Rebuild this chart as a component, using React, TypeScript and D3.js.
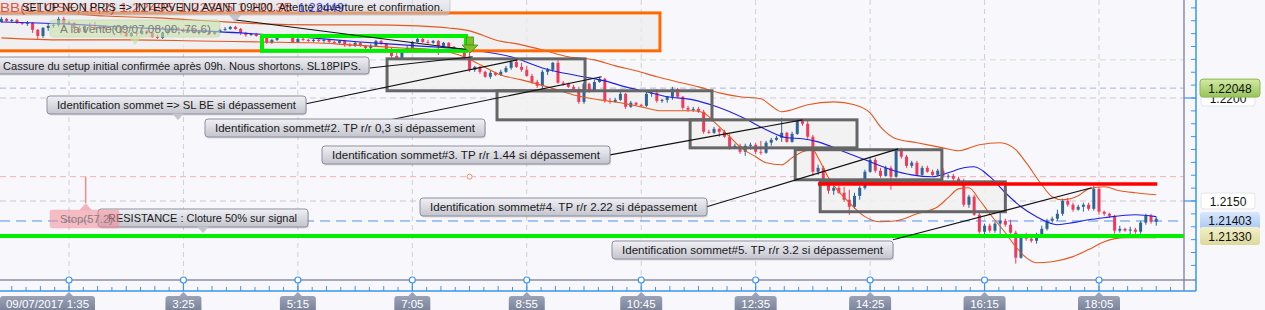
import React from "react";
import * as d3 from "d3";

const W = 1265;
const H = 310;
const FONT = "'Liberation Sans', Arial, sans-serif";

// 5-minute candles, 09/07/2017, first bar at 00:30
const START_MIN = 30;
const STEP_MIN = 5;

const opens = [
  1.22369,1.22384,1.22374,1.22379,1.22365,1.22360,1.22365,1.22331,1.22301,1.22340,
  1.22350,1.22355,1.22384,1.22360,1.22365,1.22340,1.22321,1.22350,1.22345,1.22335,
  1.22350,1.22335,1.22331,1.22340,1.22316,1.22301,1.22316,1.22311,1.22326,1.22316,
  1.22297,1.22292,1.22316,1.22331,1.22340,1.22331,1.22321,1.22331,1.22316,1.22326,
  1.22321,1.22311,1.22321,1.22331,1.22335,1.22345,1.22335,1.22316,1.22306,1.22311,
  1.22301,1.22292,1.22268,1.22282,1.22301,1.22297,1.22306,1.22272,1.22287,1.22282,
  1.22277,1.22282,1.22277,1.22282,1.22272,1.22268,1.22277,1.22258,1.22253,1.22268,
  1.22253,1.22243,1.22253,1.22277,1.22263,1.22238,1.22204,1.22195,1.22224,1.22243,
  1.22272,1.22287,1.22272,1.22268,1.22277,1.22253,1.22268,1.22248,1.22229,1.22224,
  1.22200,1.22137,1.22151,1.22127,1.22103,1.22122,1.22112,1.22127,1.22146,1.22175,
  1.22151,1.22137,1.22107,1.22078,1.22059,1.22127,1.22137,1.22171,1.22074,1.22069,
  1.22054,1.22044,1.21981,1.22069,1.22035,1.22078,1.22093,1.21986,1.21981,1.21991,
  1.22020,1.21957,1.21977,1.21967,1.21962,1.22020,1.22025,1.21986,1.21991,1.22006,
  1.22044,1.22006,1.21952,1.21943,1.21947,1.21933,1.21836,1.21831,1.21850,1.21836,
  1.21812,1.21758,1.21768,1.21739,1.21768,1.21773,1.21739,1.21734,1.21783,1.21797,
  1.21807,1.21831,1.21787,1.21826,1.21889,1.21875,1.21812,1.21642,1.21661,1.21589,
  1.21550,1.21564,1.21540,1.21506,1.21472,1.21525,1.21564,1.21642,1.21700,1.21647,
  1.21622,1.21661,1.21618,1.21744,1.21715,1.21671,1.21686,1.21627,1.21661,1.21642,
  1.21627,1.21647,1.21618,1.21622,1.21608,1.21593,1.21482,1.21521,1.21433,1.21351,
  1.21380,1.21356,1.21390,1.21404,1.21385,1.21346,1.21225,1.21322,1.21317,1.21307,
  1.21336,1.21365,1.21404,1.21414,1.21438,1.21501,1.21482,1.21458,1.21472,1.21482,
  1.21462,1.21559,1.21448,1.21438,1.21428,1.21356,1.21365,1.21356,1.21361,1.21351,
  1.21395,1.21428,1.21399,
];
const highs = [
  1.22394,1.22389,1.22384,1.22384,1.22369,1.22374,1.22369,1.22335,1.22345,1.22360,
  1.22365,1.22394,1.22394,1.22374,1.22369,1.22350,1.22355,1.22365,1.22369,1.22355,
  1.22355,1.22345,1.22345,1.22345,1.22321,1.22321,1.22326,1.22335,1.22331,1.22321,
  1.22306,1.22321,1.22335,1.22345,1.22345,1.22340,1.22335,1.22335,1.22331,1.22331,
  1.22326,1.22326,1.22335,1.22345,1.22350,1.22350,1.22340,1.22321,1.22316,1.22316,
  1.22306,1.22297,1.22287,1.22306,1.22306,1.22311,1.22311,1.22292,1.22292,1.22287,
  1.22287,1.22287,1.22287,1.22287,1.22277,1.22282,1.22282,1.22268,1.22272,1.22272,
  1.22258,1.22263,1.22282,1.22282,1.22268,1.22243,1.22219,1.22234,1.22253,1.22277,
  1.22306,1.22292,1.22282,1.22282,1.22282,1.22272,1.22272,1.22253,1.22243,1.22234,
  1.22224,1.22156,1.22156,1.22132,1.22132,1.22127,1.22137,1.22156,1.22185,1.22195,
  1.22171,1.22156,1.22117,1.22088,1.22137,1.22146,1.22175,1.22185,1.22083,1.22074,
  1.22064,1.22054,1.22078,1.22074,1.22088,1.22103,1.22098,1.22001,1.22001,1.22030,
  1.22025,1.21986,1.21981,1.21972,1.22030,1.22030,1.22044,1.21996,1.22010,1.22054,
  1.22049,1.22010,1.21962,1.21957,1.21957,1.21943,1.21846,1.21860,1.21855,1.21846,
  1.21826,1.21778,1.21778,1.21778,1.21783,1.21783,1.21792,1.21792,1.21807,1.21816,
  1.21904,1.21836,1.21836,1.21899,1.21894,1.21889,1.21821,1.21676,1.21671,1.21603,
  1.21574,1.21574,1.21569,1.21555,1.21540,1.21574,1.21652,1.21715,1.21710,1.21661,
  1.21671,1.21671,1.21753,1.21758,1.21724,1.21695,1.21695,1.21671,1.21671,1.21652,
  1.21656,1.21661,1.21632,1.21632,1.21618,1.21608,1.21530,1.21530,1.21448,1.21390,
  1.21390,1.21399,1.21443,1.21414,1.21409,1.21356,1.21331,1.21346,1.21331,1.21346,
  1.21380,1.21414,1.21424,1.21458,1.21511,1.21516,1.21492,1.21482,1.21492,1.21492,
  1.21574,1.21569,1.21453,1.21443,1.21433,1.21380,1.21370,1.21375,1.21370,1.21404,
  1.21438,1.21438,1.21424,
];
const lows = [
  1.22365,1.22369,1.22365,1.22360,1.22355,1.22350,1.22316,1.22287,1.22292,1.22326,
  1.22340,1.22345,1.22355,1.22355,1.22331,1.22316,1.22316,1.22340,1.22331,1.22331,
  1.22326,1.22321,1.22326,1.22306,1.22297,1.22297,1.22301,1.22306,1.22311,1.22292,
  1.22287,1.22287,1.22306,1.22316,1.22326,1.22316,1.22316,1.22311,1.22311,1.22316,
  1.22306,1.22306,1.22316,1.22326,1.22331,1.22331,1.22306,1.22297,1.22301,1.22297,
  1.22282,1.22263,1.22263,1.22277,1.22292,1.22292,1.22268,1.22268,1.22277,1.22272,
  1.22272,1.22272,1.22268,1.22268,1.22263,1.22263,1.22248,1.22248,1.22248,1.22248,
  1.22238,1.22238,1.22248,1.22258,1.22234,1.22195,1.22190,1.22190,1.22219,1.22234,
  1.22268,1.22268,1.22263,1.22263,1.22209,1.22248,1.22243,1.22224,1.22219,1.22195,
  1.22127,1.22127,1.22117,1.22098,1.22093,1.22107,1.22107,1.22122,1.22137,1.22146,
  1.22127,1.22103,1.22069,1.22049,1.22040,1.22112,1.22127,1.22069,1.22059,1.22049,
  1.22035,1.21972,1.21972,1.22025,1.22030,1.22074,1.21977,1.21972,1.21977,1.21986,
  1.21947,1.21952,1.21962,1.21957,1.21957,1.22006,1.21977,1.21977,1.21977,1.21991,
  1.22001,1.21943,1.21933,1.21933,1.21928,1.21826,1.21826,1.21826,1.21812,1.21807,
  1.21749,1.21753,1.21729,1.21719,1.21749,1.21729,1.21724,1.21729,1.21768,1.21792,
  1.21787,1.21783,1.21783,1.21821,1.21865,1.21802,1.21622,1.21627,1.21579,1.21535,
  1.21530,1.21535,1.21496,1.21433,1.21462,1.21506,1.21555,1.21637,1.21637,1.21613,
  1.21618,1.21555,1.21613,1.21705,1.21661,1.21661,1.21622,1.21622,1.21637,1.21622,
  1.21622,1.21613,1.21608,1.21598,1.21584,1.21472,1.21467,1.21428,1.21341,1.21336,
  1.21346,1.21346,1.21341,1.21375,1.21341,1.21196,1.21220,1.21307,1.21298,1.21293,
  1.21327,1.21356,1.21395,1.21404,1.21428,1.21472,1.21448,1.21453,1.21448,1.21453,
  1.21453,1.21433,1.21428,1.21419,1.21341,1.21346,1.21351,1.21336,1.21341,1.21341,
  1.21385,1.21390,1.21380,
];
const closes = [
  1.22384,1.22374,1.22379,1.22365,1.22360,1.22365,1.22331,1.22301,1.22340,1.22350,
  1.22355,1.22384,1.22360,1.22365,1.22340,1.22321,1.22350,1.22345,1.22335,1.22350,
  1.22335,1.22331,1.22340,1.22316,1.22301,1.22316,1.22311,1.22326,1.22316,1.22297,
  1.22292,1.22316,1.22331,1.22340,1.22331,1.22321,1.22331,1.22316,1.22326,1.22321,
  1.22311,1.22321,1.22331,1.22335,1.22345,1.22335,1.22316,1.22306,1.22311,1.22301,
  1.22292,1.22268,1.22282,1.22301,1.22297,1.22306,1.22272,1.22287,1.22282,1.22277,
  1.22282,1.22277,1.22282,1.22272,1.22268,1.22277,1.22258,1.22253,1.22268,1.22253,
  1.22243,1.22253,1.22277,1.22263,1.22238,1.22204,1.22195,1.22224,1.22243,1.22272,
  1.22287,1.22272,1.22268,1.22277,1.22253,1.22268,1.22248,1.22229,1.22224,1.22200,
  1.22137,1.22151,1.22127,1.22103,1.22122,1.22112,1.22127,1.22146,1.22175,1.22151,
  1.22137,1.22107,1.22078,1.22059,1.22127,1.22137,1.22171,1.22074,1.22069,1.22054,
  1.22044,1.21981,1.22069,1.22035,1.22078,1.22093,1.21986,1.21981,1.21991,1.22020,
  1.21957,1.21977,1.21967,1.21962,1.22020,1.22025,1.21986,1.21991,1.22006,1.22044,
  1.22006,1.21952,1.21943,1.21947,1.21933,1.21836,1.21831,1.21850,1.21836,1.21812,
  1.21758,1.21768,1.21739,1.21768,1.21773,1.21739,1.21734,1.21783,1.21797,1.21807,
  1.21831,1.21787,1.21826,1.21889,1.21875,1.21812,1.21642,1.21661,1.21589,1.21550,
  1.21564,1.21540,1.21506,1.21472,1.21525,1.21564,1.21642,1.21700,1.21647,1.21622,
  1.21661,1.21618,1.21744,1.21715,1.21671,1.21686,1.21627,1.21661,1.21642,1.21627,
  1.21647,1.21618,1.21622,1.21608,1.21593,1.21482,1.21521,1.21433,1.21351,1.21380,
  1.21356,1.21390,1.21404,1.21385,1.21346,1.21225,1.21322,1.21317,1.21307,1.21336,
  1.21365,1.21404,1.21414,1.21438,1.21501,1.21482,1.21458,1.21472,1.21482,1.21462,
  1.21559,1.21448,1.21438,1.21428,1.21356,1.21365,1.21356,1.21361,1.21351,1.21395,
  1.21428,1.21399,1.21414,
];

// Bollinger bands (orange) and moving average (blue), read at bar numbers
const upperBar = [0,10,20,30,40,50,60,70,80,86,90,95,100,104,109,114,118,122,126,130,134,138,142,146,148,150,152,155,160,164,167,169,172,176,181,184,188,192,195,197,200,202,204,207,209,212,215,218,222];
const upperVal = [1.22408,1.22413,1.22398,1.22389,1.22374,1.22360,1.22355,1.22355,1.22350,1.22340,1.22326,1.22282,1.22258,1.22234,1.22200,1.22185,1.22156,1.22132,1.22103,1.22078,1.22054,1.22025,1.22006,1.21996,1.21962,1.21933,1.21943,1.21967,1.21981,1.21967,1.21928,1.21860,1.21802,1.21783,1.21758,1.21744,1.21773,1.21783,1.21749,1.21686,1.21579,1.21521,1.21506,1.21525,1.21559,1.21569,1.21550,1.21540,1.21530];
const maBar = [0,12,23,34,46,57,69,80,90,98,104,111,116,120,124,128,133,137,143,147,151,154,157,162,166,171,175,179,182,185,187,190,193,196,199,203,206,209,212,218,222];
const maVal = [1.22369,1.22360,1.22345,1.22331,1.22316,1.22297,1.22272,1.22253,1.22234,1.22200,1.22146,1.22107,1.22083,1.22054,1.22030,1.22006,1.21991,1.21962,1.21899,1.21846,1.21807,1.21802,1.21787,1.21739,1.21700,1.21652,1.21627,1.21618,1.21637,1.21661,1.21666,1.21618,1.21540,1.21472,1.21424,1.21385,1.21395,1.21409,1.21419,1.21433,1.21424];
const lowerBar = [0,12,25,38,50,60,67,77,83,88,91,96,100,105,110,115,119,123,127,133,135,137,140,142,145,147,150,152,154,156,157,159,163,166,169,172,176,180,182,184,186,188,190,193,195,197,199,202,206,209,212,216,222];
const lowerVal = [1.22292,1.22282,1.22282,1.22277,1.22272,1.22268,1.22258,1.22243,1.22234,1.22209,1.22175,1.22112,1.22088,1.22054,1.22015,1.21991,1.21977,1.21957,1.21938,1.21938,1.21928,1.21884,1.21812,1.21763,1.21715,1.21686,1.21676,1.21710,1.21739,1.21749,1.21710,1.21613,1.21492,1.21424,1.21399,1.21404,1.21438,1.21472,1.21516,1.21559,1.21564,1.21506,1.21438,1.21346,1.21278,1.21225,1.21200,1.21205,1.21230,1.21264,1.21302,1.21322,1.21322];

// Time axis (minutes of the day)
const xTickMin = [95, 205, 315, 425, 535, 645, 755, 865, 975, 1085];
const xTickLabels = ["09/07/2017 1:35", "3:25", "5:15", "7:05", "8:55", "10:45", "12:35", "14:25", "16:15", "18:05"];
const xTickWidths = [95, 36, 36, 36, 36, 42, 42, 42, 42, 42];

// Price levels
const gridPrices = [1.22, 1.215];
const gridPriceLabels = ["1.2200", "1.2150"];
const supportPrice = 1.2133;
const resistancePrice = 1.21583;
const lastPrice = 1.21403;
const stopPrice = 1.21618;
const levelA = 1.22185;
const levelB = 1.22048;

// Drawn zones: [t1, t2, priceTop, priceBottom]
const zoneOrange = [27, 663, 1.22413, 1.22229];
const zoneGreen = [280.5, 476.6, 1.22301, 1.22229];
const grayZones = [
  [400.7, 591, 1.2219, 1.22035],
  [506.4, 713, 1.22035, 1.21894],
  [692, 852.4, 1.21894, 1.21758],
  [793, 934, 1.21749, 1.21603],
  [817, 995, 1.21593, 1.21448],
];
const resistanceSpan = [815, 1141];

// Trend lines: [t1, p1, t2, p2]
const trendLines = [
  [255, 1.22379, 478.5, 1.22234],
  [384, 1.22146, 483, 1.222],
  [323, 1.21972, 526, 1.22185],
  [404, 1.21894, 607, 1.22103],
  [615, 1.21724, 800, 1.21894],
  [708, 1.21472, 892, 1.21753],
  [887, 1.21312, 1078, 1.21564],
];

const notes = [
  { text: "Cassure du setup initial confirmée après 09h. Nous shortons. SL18PIPS.", x: -3, y: 57, w: 372, h: 17, tx: 3, ty: 69.5, tw: 358, ptr: null as number | null },
  { text: "Identification sommet => SL BE si dépassement", x: 47, y: 96, w: 259, h: 18, tx: 57, ty: 109, tw: 239, ptr: 178 },
  { text: "Identification sommet#2. TP r/r 0,3 si dépassement", x: 205, y: 119, w: 280, h: 18, tx: 215, ty: 132, tw: 260, ptr: null },
  { text: "Identification sommet#3. TP r/r 1.44 si dépassement", x: 322, y: 146, w: 288, h: 18, tx: 332, ty: 159, tw: 268, ptr: null },
  { text: "Identification sommet#4. TP r/r 2.22 si dépassement", x: 420, y: 198, w: 287, h: 18, tx: 430, ty: 211, tw: 267, ptr: null },
  { text: "Identification sommet#5. TP r/r 3.2 si dépassement", x: 612, y: 241, w: 281, h: 18, tx: 622, ty: 254, tw: 261, ptr: null },
  { text: "RESISTANCE : Cloture 50% sur signal", x: 98, y: 209, w: 210, h: 18, tx: 108, ty: 222, tw: 189, ptr: 203 },
];

const RED = "#ef3a5d";
const BLUE = "#2f6496";

export default function App() {
  const x = d3.scaleLinear().domain([95, 1085]).range([69, 1099]);
  const y = d3.scaleLinear().domain([1.215, 1.22]).range([201, 98]);
  const barTime = (i: number) => START_MIN + STEP_MIN * i;
  const PLOT_R = 1184;
  const AXIS_Y = 280;
  const AXIS2_Y = 291;
  const RAX = 1196;

  const line = d3
    .line<[number, number]>()
    .x((d) => x(barTime(d[0])))
    .y((d) => y(d[1]))
    .curve(d3.curveMonotoneX);
  const upperPath = line(upperBar.map((b, i) => [b, upperVal[i]]));
  const maPath = line(maBar.map((b, i) => [b, maVal[i]]));
  const lowerPath = line(lowerBar.map((b, i) => [b, lowerVal[i]]));

  const minorX = d3.range(95 - 13.75 * 5, 1200, 13.75).filter((m) => x(m) > 1 && x(m) < PLOT_R - 2);
  const minorY = d3.range(-6, 16).map((k) => 1.215 + k * 0.000625).filter((p) => y(p) > 2 && y(p) < AXIS_Y - 2);

  const zoneRect = (z: number[]) => ({
    x: x(z[0]),
    y: y(z[2]),
    w: x(z[1]) - x(z[0]),
    h: y(z[3]) - y(z[2]),
  });

  const ax = x(480);
  const stopX = x(111);

  return (
    <svg width={W} height={H} style={{ position: "absolute", left: 0, top: 0 }} fontFamily={FONT}>
      <defs>
        <linearGradient id="gLbl" x1="0" y1="0" x2="0" y2="1">
          <stop offset="0" stopColor="#f0f0f5" />
          <stop offset="1" stopColor="#c4c4ce" />
        </linearGradient>
        <linearGradient id="gAxis" x1="0" y1="0" x2="0" y2="1">
          <stop offset="0" stopColor="#9aa2b6" />
          <stop offset="1" stopColor="#737c94" />
        </linearGradient>
        <linearGradient id="gGreen" x1="0" y1="0" x2="0" y2="1">
          <stop offset="0" stopColor="#d2eaa6" />
          <stop offset="1" stopColor="#98c35a" />
        </linearGradient>
        <linearGradient id="gBlue" x1="0" y1="0" x2="0" y2="1">
          <stop offset="0" stopColor="#d8e7fc" />
          <stop offset="1" stopColor="#a8c7f2" />
        </linearGradient>
        <linearGradient id="gYellow" x1="0" y1="0" x2="0" y2="1">
          <stop offset="0" stopColor="#f3f1c8" />
          <stop offset="1" stopColor="#dcd89c" />
        </linearGradient>
        <clipPath id="plotClip">
          <rect x={0} y={0} width={PLOT_R} height={AXIS_Y} />
        </clipPath>
      </defs>

      <rect x={0} y={0} width={W} height={H} fill="#f8f8fc" />

      <g clipPath="url(#plotClip)">
        {/* vertical grid */}
        {xTickMin.map((m) => (
          <line key={"vg" + m} x1={x(m)} x2={x(m)} y1={0} y2={AXIS_Y} stroke="#cfcfd4" strokeDasharray="5,4" />
        ))}
        {/* horizontal levels */}
        {gridPrices.map((p) => (
          <line key={"hg" + p} x1={0} x2={PLOT_R} y1={y(p)} y2={y(p)} stroke="#c9c9cf" strokeDasharray="6,4" />
        ))}
        <line x1={0} x2={PLOT_R} y1={y(levelA)} y2={y(levelA)} stroke="#cfe0c6" strokeDasharray="6,4" />
        <line x1={0} x2={PLOT_R} y1={y(levelB)} y2={y(levelB)} stroke="#a9b5d6" strokeDasharray="6,4" />
        <line x1={0} x2={PLOT_R} y1={y(stopPrice)} y2={y(stopPrice)} stroke="#f4aeb0" strokeDasharray="6,4" />
        <line x1={0} x2={PLOT_R} y1={y(lastPrice)} y2={y(lastPrice)} stroke="#4d94f0" strokeDasharray="10,6" />

        {/* zone fills */}
        {(() => {
          const r = zoneRect(zoneOrange);
          return <rect x={r.x} y={r.y} width={r.w} height={r.h} fill="#ececef" opacity={0.7} />;
        })()}
        {grayZones.map((z, i) => {
          const r = zoneRect(z);
          return <rect key={"gz" + i} x={r.x} y={r.y} width={r.w} height={r.h} fill="#f1f1f2" opacity={0.9} />;
        })}

        {/* candles */}
        {closes.map((c, i) => {
          const o = opens[i];
          const cx = x(barTime(i));
          const up = c > o;
          const col = up ? BLUE : RED;
          const top = y(Math.max(o, c));
          const bot = y(Math.min(o, c));
          return (
            <g key={"c" + i}>
              <line x1={cx} x2={cx} y1={y(highs[i])} y2={y(lows[i])} stroke={col} strokeWidth={1} />
              <rect x={cx - 1.5} y={top} width={3} height={Math.max(1, bot - top)} fill={col} />
            </g>
          );
        })}

        {/* bands & MA */}
        <path d={upperPath || ""} fill="none" stroke="#e4581c" strokeWidth={1.1} />
        <path d={lowerPath || ""} fill="none" stroke="#e4581c" strokeWidth={1.1} />
        <path d={maPath || ""} fill="none" stroke="#1f1fe0" strokeWidth={1.1} />

        {/* zone borders */}
        {(() => {
          const r = zoneRect(zoneOrange);
          return <rect x={r.x} y={r.y} width={r.w} height={r.h} fill="none" stroke="#ff6a00" strokeWidth={3} />;
        })()}
        {grayZones.map((z, i) => {
          const r = zoneRect(z);
          return <rect key={"gb" + i} x={r.x} y={r.y} width={r.w} height={r.h} fill="none" stroke="#666666" strokeWidth={3} />;
        })}
        {(() => {
          const r = zoneRect(zoneGreen);
          return <rect x={r.x} y={r.y} width={r.w} height={r.h} fill="none" stroke="#00ee00" strokeWidth={4} />;
        })()}

        {/* support / resistance */}
        <line x1={0} x2={PLOT_R} y1={y(supportPrice)} y2={y(supportPrice)} stroke="#00f000" strokeWidth={4} />
        <line x1={x(resistanceSpan[0])} x2={x(resistanceSpan[1])} y1={y(resistancePrice)} y2={y(resistancePrice)} stroke="#ff0000" strokeWidth={3.5} />

        {/* trend lines */}
        {trendLines.map((t, i) => (
          <line key={"tl" + i} x1={x(t[0])} y1={y(t[1])} x2={x(t[2])} y2={y(t[3])} stroke="#111" strokeWidth={1.1} />
        ))}

        {/* stop marker */}
        <line x1={stopX} x2={stopX} y1={y(stopPrice)} y2={203} stroke="#f08a90" strokeWidth={1.5} />
        <circle cx={ax} cy={y(stopPrice)} r={2.5} fill="#fff" stroke="#f08a70" strokeWidth={1} />

        {/* top tooltip box (semi-transparent, indicator text shows through) */}
        <rect x={-3} y={-5} width={453} height={20} rx={3} fill="url(#gLbl)" opacity={0.55} stroke="#9a9aa6" strokeOpacity={0.8} />
        <polygon points="229,15 241,15 235,22" fill="#b8b8c4" opacity={0.8} />

        {/* top indicator text */}
        <text x={0} y={12} fontSize={13} fill="#e2401c" opacity={0.85} textLength={292} lengthAdjust="spacingAndGlyphs">
          BB(CLOSE,18,2) 1.22495 1.22315 1.22135
        </text>
        <text x={298} y={12} fontSize={13} fill="#2b2bea" opacity={0.85} textLength={46} lengthAdjust="spacingAndGlyphs">
          1.22449
        </text>
        <text x={22} y={10.5} fontSize={11.5} fill="#1a1a1a" textLength={421} lengthAdjust="spacingAndGlyphs">
          SETUP NON PRIS =&gt; INTERVENU AVANT 09H00. Attente ouverture et confirmation.
        </text>

        {/* A la vente */}
        <rect x={50} y={20} width={170} height={17} rx={3} fill="#c9e2a8" opacity={0.6} stroke="#a9cc86" strokeOpacity={0.7} />
        <polygon points="129,37 141,37 135,45" fill="#c9e2a8" opacity={0.7} />
        <text x={60} y={32.5} fontSize={11.5} fill="#7c7c7c" textLength={151} lengthAdjust="spacingAndGlyphs">
          A la vente(09/07,08:00,-76,6)
        </text>

        {/* notes */}
        {notes.map((n, i) => (
          <g key={"n" + i}>
            <rect x={n.x + 1} y={n.y + 1.5} width={n.w} height={n.h} rx={3} fill="rgba(0,0,0,0.12)" />
            <rect x={n.x} y={n.y} width={n.w} height={n.h} rx={3} fill="url(#gLbl)" stroke="#8f8f9c" />
            {n.ptr !== null && (
              <polygon
                points={`${n.ptr - 6},${n.y + n.h - 0.5} ${n.ptr + 6},${n.y + n.h - 0.5} ${n.ptr},${n.y + n.h + 6}`}
                fill="#c4c4ce"
              />
            )}
            <text x={n.tx} y={n.ty} fontSize={11.5} fill="#1a1a1a" textLength={n.tw} lengthAdjust="spacingAndGlyphs">
              {n.text}
            </text>
          </g>
        ))}

        {/* stop label */}
        <polygon points={`${stopX - 6},210 ${stopX + 6},210 ${stopX},203`} fill="#f29aa2" opacity={0.7} />
        <rect x={50} y={210} width={69} height={18} rx={2} fill="#f48c98" opacity={0.55} stroke="#ee8090" strokeOpacity={0.5} />
        <text x={60} y={223} fontSize={11.5} fill="#8a7c80" textLength={53} lengthAdjust="spacingAndGlyphs">
          Stop(57.2)
        </text>

        {/* green arrow */}
        <rect x={ax - 3} y={37} width={7} height={8} fill="#79c12a" stroke="#4f8f14" strokeWidth={0.8} />
        <polygon points={`${ax - 7.5},45 ${ax + 8.5},45 ${ax + 0.5},53`} fill="#79c12a" stroke="#4f8f14" strokeWidth={0.8} />
      </g>

      {/* bottom axis */}
      <line x1={0} x2={RAX} y1={AXIS_Y} y2={AXIS_Y} stroke="#8a8fa3" strokeWidth={1.5} />
      <line x1={0} x2={RAX} y1={AXIS2_Y} y2={AXIS2_Y} stroke="#3a96f0" strokeWidth={1.5} />
      {minorX.map((m, i) => (
        <line key={"mx" + i} x1={x(m)} x2={x(m)} y1={AXIS2_Y - (i % 2 === 0 ? 5 : 4)} y2={AXIS2_Y} stroke="#3a96f0" />
      ))}
      {xTickMin.map((m, i) => {
        const tx = x(m);
        const bw = xTickWidths[i];
        const bx = i === 0 ? 0 : tx - bw / 2;
        return (
          <g key={"xt" + m}>
            <line x1={tx} x2={tx} y1={AXIS_Y} y2={AXIS2_Y} stroke="#3a96f0" strokeWidth={1.2} />
            <circle cx={tx} cy={AXIS_Y} r={3} fill="#fff" stroke="#3a96f0" strokeWidth={1.2} />
            <polygon points={`${tx - 4},296 ${tx + 4},296 ${tx},292`} fill="#9aa2b6" />
            <rect x={bx} y={296} width={bw} height={18} rx={3} fill="url(#gAxis)" />
            <text x={bx + bw / 2} y={308} fontSize={11.5} fill="#ffffff" textAnchor="middle">
              {xTickLabels[i]}
            </text>
          </g>
        );
      })}

      {/* right axis */}
      <line x1={PLOT_R} x2={PLOT_R} y1={0} y2={AXIS2_Y} stroke="#8a8fa3" strokeWidth={1.5} />
      <line x1={RAX} x2={RAX} y1={0} y2={AXIS2_Y} stroke="#3a96f0" strokeWidth={1.5} />
      {minorY.map((p, i) => (
        <line key={"my" + i} x1={RAX - 5} x2={RAX} y1={y(p)} y2={y(p)} stroke="#3a96f0" />
      ))}
      {gridPrices.map((p) => (
        <line key={"gy" + p} x1={PLOT_R} x2={RAX} y1={y(p)} y2={y(p)} stroke="#3a96f0" strokeWidth={1.2} />
      ))}

      {/* price tags */}
      {gridPrices.map((p, i) => (
        <g key={"pt" + p}>
          <rect x={1201} y={y(p) - 8} width={54} height={16} rx={3} fill="#ffffff" stroke="#e4e4ea" />
          <text x={1228} y={y(p) + 4.5} fontSize={12} fill="#111" textAnchor="middle">
            {gridPriceLabels[i]}
          </text>
        </g>
      ))}
      <rect x={1200} y={y(levelB) - 9} width={60} height={18} rx={3} fill="url(#gGreen)" stroke="#8cb84e" />
      <text x={1230} y={y(levelB) + 4.5} fontSize={12} fill="#111" textAnchor="middle">
        {levelB.toFixed(5)}
      </text>
      <rect x={1200} y={y(lastPrice) - 9} width={60} height={18} rx={3} fill="url(#gBlue)" />
      <text x={1230} y={y(lastPrice) + 4.5} fontSize={12} fill="#111" textAnchor="middle">
        {lastPrice.toFixed(5)}
      </text>
      <rect x={1200} y={y(supportPrice) - 9} width={60} height={18} rx={3} fill="url(#gYellow)" />
      <text x={1230} y={y(supportPrice) + 4.5} fontSize={12} fill="#111" textAnchor="middle">
        {supportPrice.toFixed(5)}
      </text>
    </svg>
  );
}
